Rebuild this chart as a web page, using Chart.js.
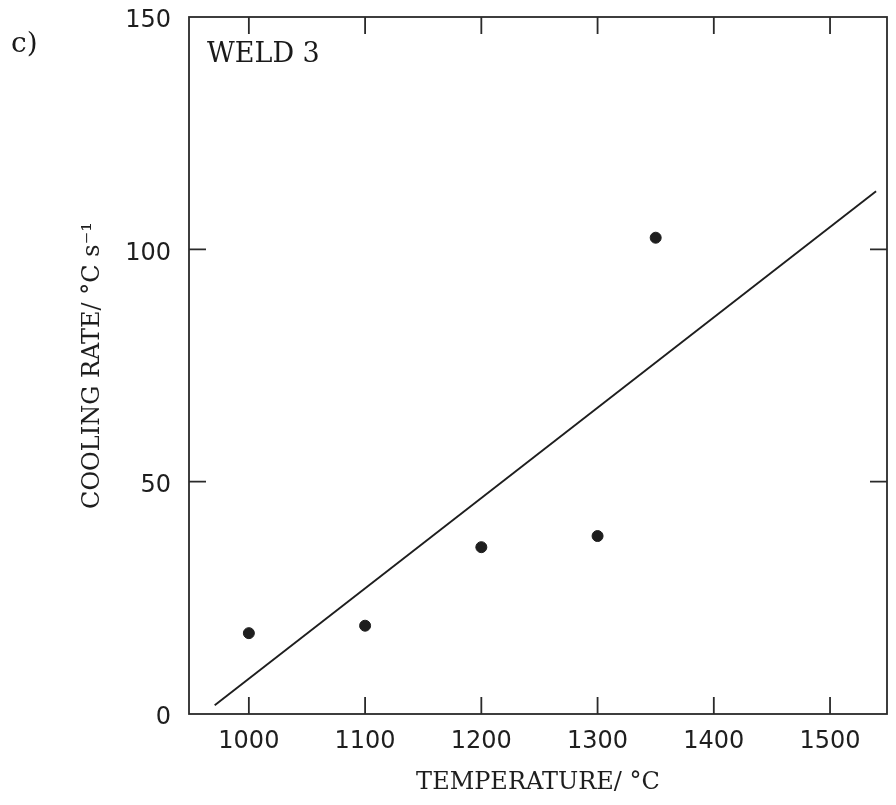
<!DOCTYPE html>
<html>
<head>
<meta charset="utf-8">
<script src="https://cdn.jsdelivr.net/npm/chart.js@4.4.1/dist/chart.umd.min.js"></script>
<style>
  html, body { margin: 0; padding: 0; background: #fff; }
  #wrap { position: relative; width: 896px; height: 805px; }
  canvas { position: absolute; left: 0; top: 0; }
  .lbl { position: absolute; font-family: "DejaVu Serif", serif; color: #1a1a1a; white-space: nowrap; }
</style>
</head>
<body>
<div id="wrap">
  <canvas id="c" width="896" height="805"></canvas>
  <div class="lbl" id="panel" style="left:11px; top:26px; font-size:28px;">c)</div>
  <div class="lbl" id="weld" style="left:207px; top:37px; font-size:27px;">WELD 3</div>
</div>
<script>
// ---- data ----
const tempC = [1000, 1100, 1200, 1300, 1350];
const coolingRate = [17.4, 19.0, 35.9, 38.3, 102.5];
const fitTemp = [970.6, 1539.6];
const fitRate = [1.9, 112.5];
const xTicks = [1000, 1100, 1200, 1300, 1400, 1500];
const yTicks = [0, 50, 100, 150];
const xTitle = 'TEMPERATURE/ °C';
const yTitle = 'COOLING RATE/ °C s\u207B\u00B9';

const ink = '#1e1e1e';

const framePlugin = {
  id: 'frame',
  afterDatasetsDraw(chart) {
    const { ctx, chartArea: a, scales } = chart;
    const L = 17;
    ctx.save();
    ctx.strokeStyle = '#2a2a2a';
    ctx.lineWidth = 1.8;
    ctx.strokeRect(a.left, a.top, a.right - a.left, a.bottom - a.top);
    ctx.beginPath();
    xTicks.forEach(v => {
      const x = scales.x.getPixelForValue(v);
      ctx.moveTo(x, a.bottom); ctx.lineTo(x, a.bottom - L);
      ctx.moveTo(x, a.top); ctx.lineTo(x, a.top + L);
    });
    yTicks.forEach(v => {
      const y = scales.y.getPixelForValue(v);
      if (v === yTicks[0] || v === yTicks[yTicks.length - 1]) return;
      ctx.moveTo(a.left, y); ctx.lineTo(a.left + L, y);
      ctx.moveTo(a.right, y); ctx.lineTo(a.right - L, y);
    });
    ctx.stroke();
    ctx.restore();
  }
};

new Chart(document.getElementById('c'), {
  type: 'scatter',
  data: {
    datasets: [
      {
        label: 'measured',
        data: tempC.map((t, i) => ({ x: t, y: coolingRate[i] })),
        pointRadius: 5.5,
        pointBackgroundColor: ink,
        pointBorderColor: ink,
        showLine: false
      },
      {
        label: 'fit',
        data: fitTemp.map((t, i) => ({ x: t, y: fitRate[i] })),
        showLine: true,
        pointRadius: 0,
        borderColor: ink,
        borderWidth: 1.9,
        fill: false
      }
    ]
  },
  options: {
    responsive: false,
    animation: false,
    layout: { padding: { top: 17, right: 9, bottom: 0, left: 0 } },
    plugins: { legend: { display: false }, tooltip: { enabled: false } },
    scales: {
      x: {
        type: 'linear',
        min: 948.5,
        max: 1549,
        grid: { display: false, drawTicks: false },
        border: { display: false },
        afterBuildTicks(s) { s.ticks = xTicks.map(v => ({ value: v })); },
        afterFit(s) { s.height = 91; s.paddingLeft = 0; s.paddingRight = 0; },
        ticks: {
          padding: 13,
          color: ink,
          font: { family: 'DejaVu Sans', size: 24 },
          callback: v => String(v)
        },
        title: {
          display: true,
          text: xTitle,
          color: ink,
          font: { family: 'DejaVu Serif', size: 24 },
          padding: { top: 0, bottom: 8 }
        }
      },
      y: {
        type: 'linear',
        min: 0,
        max: 150,
        grid: { display: false, drawTicks: false },
        border: { display: false },
        afterBuildTicks(s) { s.ticks = yTicks.map(v => ({ value: v })); },
        afterFit(s) { s.width = 189; s.paddingTop = 0; s.paddingBottom = 0; },
        ticks: {
          padding: 18,
          labelOffset: 4,
          color: ink,
          font: { family: 'DejaVu Sans', size: 24 },
          callback: v => String(v)
        },
        title: {
          display: true,
          text: yTitle,
          color: ink,
          font: { family: 'DejaVu Serif', size: 24 },
          padding: { top: 78, bottom: 0 }
        }
      }
    }
  },
  plugins: [framePlugin]
});
</script>
</body>
</html>
